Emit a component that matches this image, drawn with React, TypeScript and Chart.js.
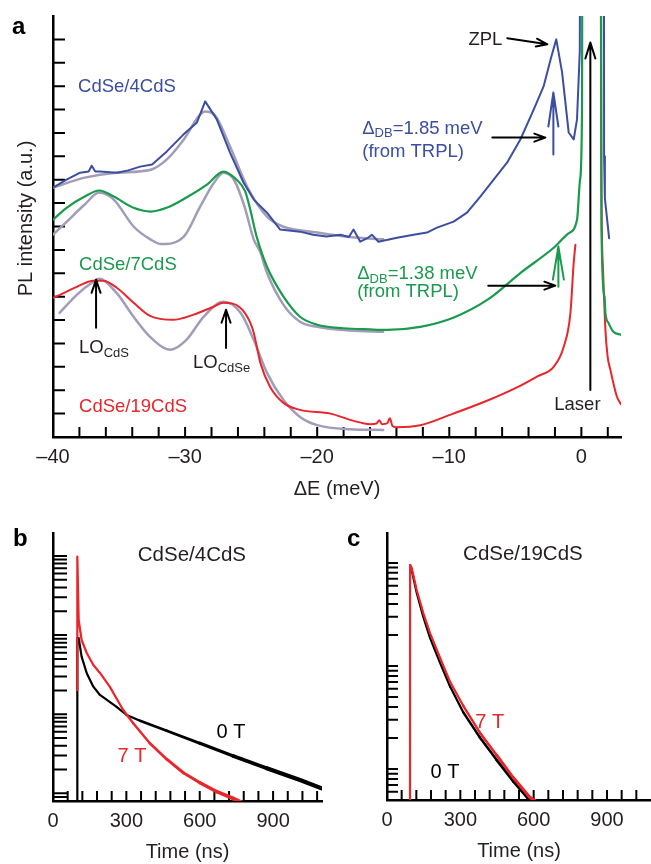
import React, { useEffect, useRef } from 'react';
import { Chart, registerables } from 'chart.js';

Chart.register(...registerables);

const FONT = '"Liberation Sans", Arial, Helvetica, sans-serif';
const TXT = '#231f20';
const BLUE = '#3b4ea0';
const GREEN = '#1a9a4c';
const RED = '#e8262b';
const GRAY = '#a19db9';

type P = [number, number | null];

// ---------- Panel a: PL spectra (ΔE in meV, intensity in a.u. offset) ----------
const aBlue4: P[] = [
  [-40, 10.66], [-38.97, 11.0], [-37.95, 11.3], [-37.3, 11.35], [-37.07, 11.6], [-36.8, 11.35],
  [-36.44, 11.35], [-35.18, 11.3], [-34.3, 11.4], [-33.4, 11.56], [-32.5, 11.65], [-31.4, 12.2],
  [-30.13, 12.93], [-29.1, 13.45], [-28.48, 14.35], [-27.6, 13.58], [-26.6, 12.16], [-25.58, 10.88],
  [-24.8, 10.15], [-23.8, 9.59], [-22.8, 8.87], [-21.3, 8.78], [-20.3, 8.65], [-19.3, 8.57],
  [-18.26, 8.65], [-17.6, 8.55], [-17.25, 8.87], [-16.74, 8.35], [-16.2, 8.5], [-15.86, 8.65],
  [-15.36, 8.35], [-13.96, 8.52], [-12.7, 8.65], [-11.69, 8.74], [-10.93, 8.95], [-9.67, 9.21],
  [-8.66, 9.59], [-7.65, 10.28], [-6.64, 11.0], [-5.63, 11.73], [-4.62, 12.72], [-3.61, 14.0],
  [-2.86, 14.99], [-2.3, 16.2], [-1.9, 17.0], [-1.46, 15.59], [-0.96, 13.02], [-0.58, 12.72],
  [-0.33, 13.58], [-0.12, 16.5], [0.0, 40], [0.8, null],
  [1.68, 40], [1.72, 12.0], [1.78, 10.2], [2.1, 8.5],
];
const aGreen7: P[] = [
  [-40, 9.29], [-38.97, 9.8], [-37.6, 10.28], [-36.5, 10.54], [-35.4, 10.28], [-33.9, 9.8],
  [-32.6, 9.64], [-31.4, 9.8], [-29.9, 10.24], [-28.35, 10.79], [-27.1, 11.35], [-26.1, 11.0],
  [-25.45, 10.5], [-25.1, 9.8], [-24.6, 8.6], [-23.8, 7.28], [-22.55, 6.0], [-21.3, 5.14],
  [-20.0, 4.8], [-18, 4.65], [-16, 4.6], [-14.7, 4.58], [-12.2, 4.71], [-9.7, 5.1], [-7.1, 5.87],
  [-4.6, 7.02], [-2.1, 8.09], [-1.0, 8.7], [-0.33, 9.29], [-0.1, 11], [0.05, 14], [0.12, 40],
  [0.8, null],
  [1.45, 40], [1.52, 9.0], [1.75, 6.0], [1.82, 5.3], [2.05, 4.88], [2.42, 4.5], [3.0, 4.37],
];
const aRed19: P[] = [
  [-40, 5.95], [-39.47, 6.08], [-38.2, 6.42], [-36.95, 6.68], [-36.2, 6.68], [-35.17, 6.38],
  [-33.9, 5.74], [-32.65, 5.18], [-30.9, 5.01], [-29.4, 5.22], [-27.85, 5.57], [-27.1, 5.74],
  [-25.8, 5.52], [-25.1, 4.93], [-24.8, 4.45], [-24.3, 3.17], [-23.56, 2.14], [-22.55, 1.46],
  [-21.3, 1.16], [-19.0, 1.0], [-17.3, 0.7], [-16.0, 0.55], [-15.5, 0.58], [-15.3, 0.72],
  [-15.1, 0.55], [-14.7, 0.58], [-14.5, 0.8], [-14.3, 0.47], [-14.0, 0.42], [-12.2, 0.5],
  [-9.7, 1.0], [-7.15, 1.55], [-4.6, 2.2], [-3.3, 2.6], [-2.1, 3.0], [-1.34, 3.85], [-0.83, 5.3],
  [-0.58, 7.45], [-0.45, 8.22], [0.5, null],
  [1.4, 40], [1.5, 12], [1.65, 7.0], [1.82, 4.58], [1.99, 3.43], [2.2, 2.87], [2.42, 2.31],
  [2.7, 1.71], [3.0, 1.4],
];
const aFit4: P[] = [
  [-40, 10.66], [-37.6, 11.09], [-35.2, 11.3], [-32.6, 11.43], [-31.4, 11.86], [-30.1, 12.72],
  [-28.86, 13.79], [-28.5, 13.92], [-27.8, 13.79], [-26.6, 12.42], [-25.3, 10.7], [-23.8, 9.42],
  [-22.6, 9.0], [-20.0, 8.74], [-17.5, 8.55], [-15.0, 8.45],
];
const aFit7: P[] = [
  [-40, 8.65], [-38.97, 9.2], [-37.6, 9.94], [-36.5, 10.45], [-35.4, 10.15], [-33.9, 9.0],
  [-32.6, 8.44], [-31.8, 8.25], [-30.1, 8.57], [-28.86, 9.85], [-27.8, 10.88], [-27.1, 11.3],
  [-26.3, 11.0], [-25.5, 9.85], [-24.8, 8.44], [-24.3, 7.9], [-23.8, 7.02], [-22.55, 5.65],
  [-21.3, 4.93], [-20, 4.71], [-17.5, 4.55], [-15.0, 4.5],
];
const aFit19: P[] = [
  [-39.5, 5.31], [-38.2, 6.08], [-36.95, 6.64], [-36.5, 6.77], [-35.2, 6.17], [-33.9, 5.14],
  [-32.65, 4.28], [-31.1, 3.73], [-29.9, 4.15], [-28.6, 5.14], [-27.1, 5.78], [-25.8, 5.31],
  [-24.8, 4.15], [-23.8, 2.74], [-22.55, 1.58], [-21.3, 0.86], [-20, 0.51], [-17.5, 0.33],
  [-15.0, 0.3],
];
const aXTickValues = [-40, -30, -20, -10, 0];
const aXTickLabels = ['\u201340', '\u201330', '\u201320', '\u201310', '0'];
const aXMinor = [-38, -36, -34, -32, -30, -28, -26, -24, -22, -20, -18, -16, -14, -12, -10, -8, -6, -4, -2, 0, 2];
const aYTicks = [1, 2, 3, 4, 5, 6, 7, 8, 9, 10, 11, 12, 13, 14, 15, 16, 17];

// ---------- Panel b: TRPL CdSe/4CdS ----------
const b0T: P[] = [
  [99, 0.1], [99.5, 91.9], [105, 91.9], [117, 53.3], [138, 32.9], [165, 22.3], [192, 17.5],
  [260, 12.4], [301, 9.77], [356, 8.27], [465, 6.18], [601, 4.29], [737, 2.96], [874, 2.07],
  [1010, 1.47], [1098, 1.16],
];
const b7T: P[] = [
  [99, 20.2], [99.5, 980], [105, 155], [117, 86.7], [138, 59.4], [165, 41.9], [192, 33.2],
  [232, 22.3], [287, 11.3], [328, 7.67], [396, 4.29], [465, 2.7], [533, 1.82], [601, 1.36],
  [670, 1.05], [737, 0.86], [775, 0.76],
];
// ---------- Panel c: TRPL CdSe/19CdS ----------
const c0T: P[] = [
  [97, 88], [101, 85.5], [121.5, 51.4], [148.5, 29.9], [176, 18.7], [217, 10.7], [258, 6.3],
  [312, 3.55], [380, 2.02], [449, 1.22], [517, 0.76], [577, 0.52], [590, 0.45],
];
const c7T: P[] = [
  [94, 0.1], [94.5, 95.8], [101, 89.5], [121.5, 54.6], [148.5, 32.6], [176, 20.8], [217, 12.0],
  [258, 7.0], [312, 4.1], [380, 2.25], [449, 1.36], [517, 0.82], [585, 0.53], [612, 0.48],
];
const tXTickValues = [0, 300, 600, 900];
const tXTickLabels = ['0', '300', '600', '900'];
const tXMinorStep = 60;

const pts = (a: P[]) => a.map(([x, y]) => ({ x, y }));

function drawRich(ctx: CanvasRenderingContext2D, x: number, y: number,
  segs: { t: string; sub?: boolean }[], size: number, color: string, align: 'left' | 'center' = 'left') {
  const subSize = Math.round(size * 0.7);
  const widths = segs.map((s) => {
    ctx.font = `${s.sub ? subSize : size}px ${FONT}`;
    return ctx.measureText(s.t).width;
  });
  const total = widths.reduce((a, b) => a + b, 0);
  let cx = align === 'center' ? x - total / 2 : x;
  ctx.fillStyle = color;
  ctx.textBaseline = 'middle';
  ctx.textAlign = 'left';
  segs.forEach((s, i) => {
    ctx.font = `${s.sub ? subSize : size}px ${FONT}`;
    ctx.fillText(s.t, cx, s.sub ? y + size * 0.28 : y);
    cx += widths[i];
  });
}

function arrow(ctx: CanvasRenderingContext2D, x1: number, y1: number, x2: number, y2: number,
  color: string, lw: number, hl: number, hw: number) {
  const a = Math.atan2(y2 - y1, x2 - x1);
  ctx.save();
  ctx.strokeStyle = color;
  ctx.lineWidth = lw;
  ctx.lineCap = 'round';
  ctx.lineJoin = 'round';
  ctx.beginPath();
  ctx.moveTo(x1, y1);
  ctx.lineTo(x2, y2);
  const bx = x2 - hl * Math.cos(a);
  const by = y2 - hl * Math.sin(a);
  const nx = -Math.sin(a) * hw;
  const ny = Math.cos(a) * hw;
  ctx.moveTo(bx + nx, by + ny);
  ctx.lineTo(x2, y2);
  ctx.lineTo(bx - nx, by - ny);
  ctx.stroke();
  ctx.restore();
}

function tickPlugin(xVals: number[], yVals: any, xLen: number, yLen: number) {
  return {
    id: 'inwardTicks',
    beforeDatasetsDraw(chart: any) {
      const { ctx, chartArea, scales } = chart;
      const yv: number[] = typeof yVals === 'function' ? yVals(scales.y) : yVals;
      ctx.save();
      ctx.strokeStyle = '#000';
      ctx.lineWidth = 2;
      ctx.beginPath();
      xVals.forEach((v) => {
        const px = scales.x.getPixelForValue(v);
        ctx.moveTo(px, chartArea.bottom);
        ctx.lineTo(px, chartArea.bottom - xLen);
      });
      yv.forEach((v: number) => {
        const py = scales.y.getPixelForValue(v);
        ctx.moveTo(chartArea.left, py);
        ctx.lineTo(chartArea.left + yLen, py);
      });
      ctx.stroke();
      ctx.restore();
    },
  };
}

function logTicks(scale: any) {
  const out: number[] = [];
  for (let n = -2; n <= 4; n++) {
    for (let k = 1; k <= 9; k++) {
      const v = k * Math.pow(10, n);
      if (v > scale.min * 1.01 && v < scale.max * 0.99) out.push(v);
    }
  }
  return out;
}

const lineDs = (label: string, data: P[], color: string, width: number, order: number, smooth: boolean, extra: any = {}) => ({
  label,
  data: pts(data),
  borderColor: color,
  backgroundColor: color,
  borderWidth: width,
  pointRadius: 0,
  fill: false,
  order,
  tension: 0,
  cubicInterpolationMode: smooth ? 'monotone' : 'default',
  spanGaps: false,
  borderCapStyle: 'round',
  borderJoinStyle: 'round',
  ...extra,
});

function makePanelA(canvas: HTMLCanvasElement) {
  const annot = {
    id: 'annotA',
    afterDraw(chart: any) {
      const { ctx, chartArea: ca, scales } = chart;
      const X = (v: number) => scales.x.getPixelForValue(v);
      const Y = (v: number) => scales.y.getPixelForValue(v);
      ctx.save();
      ctx.font = `bold 24px ${FONT}`;
      ctx.fillStyle = '#000';
      ctx.textAlign = 'left';
      ctx.textBaseline = 'middle';
      ctx.fillText('a', ca.left - 41, ca.top + 11);
      ctx.font = `20px ${FONT}`;
      ctx.fillStyle = TXT;
      ctx.textAlign = 'center';
      ctx.fillText('\u0394E (meV)', (ca.left + ca.right) / 2, ca.bottom + 52);
      ctx.save();
      ctx.translate(ca.left - 27, (ca.top + ca.bottom) / 2 - 8);
      ctx.rotate(-Math.PI / 2);
      ctx.fillText('PL intensity (a.u.)', 0, 0);
      ctx.restore();
      drawRich(ctx, X(-38.1), Y(14.95), [{ t: 'CdSe/4CdS' }], 18.5, BLUE);
      drawRich(ctx, X(-38.03), Y(7.37), [{ t: 'CdSe/7CdS' }], 18.5, GREEN);
      drawRich(ctx, X(-38.03), Y(1.28), [{ t: 'CdSe/19CdS' }], 18.5, RED);
      drawRich(ctx, X(-38.03), Y(3.81), [{ t: 'LO' }, { t: 'CdS', sub: true }], 18.5, TXT);
      drawRich(ctx, X(-29.4), Y(3.17), [{ t: 'LO' }, { t: 'CdSe', sub: true }], 18.5, TXT);
      arrow(ctx, X(-36.74), Y(4.67), X(-36.74), Y(6.72), '#000', 2, 13, 4.5);
      arrow(ctx, X(-26.9), Y(3.81), X(-26.9), Y(5.44), '#000', 2, 13, 4.5);
      drawRich(ctx, X(-7.27), Y(16.96), [{ t: 'ZPL' }], 18.5, TXT, 'center');
      arrow(ctx, X(-5.61), Y(17.05), X(-2.58), Y(16.79), '#000', 2, 11, 4);
      drawRich(ctx, X(-16.59), Y(13.19), [{ t: '\u0394' }, { t: 'DB', sub: true }, { t: '=1.85 meV' }], 18.5, BLUE);
      drawRich(ctx, X(-16.59), Y(12.2), [{ t: '(from TRPL)' }], 18.5, BLUE);
      arrow(ctx, X(-2.12), Y(12.08), X(-2.12), Y(14.73), BLUE, 2, 34, 5);
      arrow(ctx, X(-6.74), Y(12.8), X(-2.73), Y(12.8), '#000', 2, 11, 4);
      drawRich(ctx, X(-16.97), Y(6.98), [{ t: '\u0394' }, { t: 'DB', sub: true }, { t: '=1.38 meV' }], 18.5, GREEN);
      drawRich(ctx, X(-16.97), Y(6.2), [{ t: '(from TRPL)' }], 18.5, GREEN);
      arrow(ctx, X(-1.74), Y(6.42), X(-1.74), Y(8.14), GREEN, 2, 33, 5.5);
      arrow(ctx, X(-7.05), Y(6.47), X(-1.97), Y(6.47), '#000', 2, 11, 4);
      drawRich(ctx, X(-0.3), Y(1.37), [{ t: 'Laser' }], 18.5, TXT, 'center');
      arrow(ctx, X(0.68), Y(2.01), X(0.68), Y(16.87), '#000', 2, 16, 5);
      ctx.restore();
    },
  };
  return new Chart(canvas, {
    type: 'line',
    data: {
      datasets: [
        lineDs('CdSe/4CdS', aBlue4, BLUE, 2, 1, false),
        lineDs('CdSe/7CdS', aGreen7, GREEN, 2.2, 2, true),
        lineDs('CdSe/19CdS', aRed19, RED, 2, 3, true),
        lineDs('fit 4', aFit4, GRAY, 2.5, 5, true),
        lineDs('fit 7', aFit7, GRAY, 2.5, 6, true),
        lineDs('fit 19', aFit19, GRAY, 2.5, 7, true),
      ] as any,
    },
    options: {
      animation: false,
      responsive: false,
      events: [],
      layout: { padding: { left: 0, top: 16, right: 30, bottom: 0 } },
      plugins: { legend: { display: false }, tooltip: { enabled: false } },
      scales: {
        x: {
          type: 'linear', min: -40, max: 3,
          grid: { display: false, drawTicks: false },
          border: { display: true, color: '#000', width: 2.5 },
          ticks: {
            stepSize: 10, includeBounds: false, autoSkip: false, maxRotation: 0, padding: 8,
            color: TXT, font: { family: FONT, size: 20 },
            callback: (v: any) => {
              const i = aXTickValues.indexOf(Number(v));
              return i >= 0 ? aXTickLabels[i] : '';
            },
          },
          afterFit: (s: any) => { s.height = 63; },
        },
        y: {
          type: 'linear', min: 0, max: 18,
          grid: { display: false, drawTicks: false },
          border: { display: true, color: '#000', width: 2.5 },
          ticks: { display: false },
          afterFit: (s: any) => { s.width = 53; },
        },
      },
    } as any,
    plugins: [tickPlugin(aXMinor, aYTicks, 10, 12) as any, annot as any],
  });
}

function makePanelT(canvas: HTMLCanvasElement, opts: {
  letter: string; title: string; xMax: number; yMin: number; yMax: number;
  d0: P[]; d7: P[]; yWidth: number; padRight: number; xH: number;
  titlePos: [number, number]; l0: [number, number]; l7: [number, number]; yTickLen: number;
}) {
  const minor: number[] = [];
  for (let v = tXMinorStep; v < opts.xMax; v += tXMinorStep) minor.push(v);
  const annot = {
    id: 'annotT',
    afterDraw(chart: any) {
      const { ctx, chartArea: ca, scales } = chart;
      const X = (v: number) => scales.x.getPixelForValue(v);
      const Y = (v: number) => scales.y.getPixelForValue(v);
      ctx.save();
      ctx.font = `bold 24px ${FONT}`;
      ctx.fillStyle = '#000';
      ctx.textAlign = 'left';
      ctx.textBaseline = 'middle';
      ctx.fillText(opts.letter, ca.left - 40, ca.top + 6);
      ctx.font = `20px ${FONT}`;
      ctx.fillStyle = TXT;
      ctx.textAlign = 'center';
      ctx.fillText('Time (ns)', (ca.left + ca.right) / 2, ca.bottom + 51);
      drawRich(ctx, X(opts.titlePos[0]), Y(opts.titlePos[1]), [{ t: opts.title }], 20.5, TXT, 'center');
      drawRich(ctx, X(opts.l0[0]), Y(opts.l0[1]), [{ t: '0 T' }], 20, '#000', 'center');
      drawRich(ctx, X(opts.l7[0]), Y(opts.l7[1]), [{ t: '7 T' }], 20, RED, 'center');
      ctx.restore();
    },
  };
  const thick = (base: number) => ({
    segment: {
      borderWidth: (c: any) => base + Math.min(2, Math.max(0, (c.p0.parsed.x - 250) / 300)),
    },
  });
  return new Chart(canvas, {
    type: 'line',
    data: {
      datasets: [
        lineDs('7 T', opts.d7, RED, 2.2, 1, false, thick(2.2)),
        lineDs('0 T', opts.d0, '#000', 2.2, 2, false, thick(2.2)),
      ] as any,
    },
    options: {
      animation: false,
      responsive: false,
      events: [],
      layout: { padding: { left: 0, top: 28, right: opts.padRight, bottom: 0 } },
      plugins: { legend: { display: false }, tooltip: { enabled: false } },
      scales: {
        x: {
          type: 'linear', min: 0, max: opts.xMax,
          grid: { display: false, drawTicks: false },
          border: { display: true, color: '#000', width: 2.5 },
          ticks: {
            stepSize: 300, includeBounds: false, autoSkip: false, maxRotation: 0, padding: 8,
            color: TXT, font: { family: FONT, size: 20 },
            callback: (v: any) => {
              const i = tXTickValues.indexOf(Number(v));
              return i >= 0 ? tXTickLabels[i] : '';
            },
          },
          afterFit: (s: any) => { s.height = opts.xH; },
        },
        y: {
          type: 'logarithmic', min: opts.yMin, max: opts.yMax,
          grid: { display: false, drawTicks: false },
          border: { display: true, color: '#000', width: 2.5 },
          ticks: { display: false },
          afterFit: (s: any) => { s.width = opts.yWidth; },
        },
      },
    } as any,
    plugins: [tickPlugin(minor, logTicks, 10, opts.yTickLen) as any, annot as any],
  });
}

export default function App() {
  const ra = useRef<HTMLCanvasElement>(null);
  const rb = useRef<HTMLCanvasElement>(null);
  const rc = useRef<HTMLCanvasElement>(null);
  useEffect(() => {
    const ca = makePanelA(ra.current!);
    const cb = makePanelT(rb.current!, {
      letter: 'b', title: 'CdSe/4CdS', xMax: 1100, yMin: 0.8, yMax: 1950, d0: b0T, d7: b7T,
      yWidth: 53, padRight: 8, xH: 63, titlePos: [568, 1030], l0: [728, 5.96], l7: [323, 2.96], yTickLen: 14,
    });
    const cc = makePanelT(rc.current!, {
      letter: 'c', title: 'CdSe/19CdS', xMax: 1080, yMin: 0.5, yMax: 195, d0: c0T, d7: c7T,
      yWidth: 57, padRight: 0, xH: 64, titlePos: [556, 120], l0: [237, 0.915], l7: [420, 2.8], yTickLen: 11,
    });
    return () => { ca.destroy(); cb.destroy(); cc.destroy(); };
  }, []);
  return (
    <div style={{ position: 'absolute', left: 0, top: 0, width: 651, height: 864, background: '#fff', overflow: 'hidden' }}>
      <canvas ref={ra} width={651} height={500} style={{ position: 'absolute', left: 0, top: 0 }} />
      <canvas ref={rb} width={330} height={359} style={{ position: 'absolute', left: 0, top: 505 }} />
      <canvas ref={rc} width={321} height={359} style={{ position: 'absolute', left: 330, top: 505 }} />
    </div>
  );
}
